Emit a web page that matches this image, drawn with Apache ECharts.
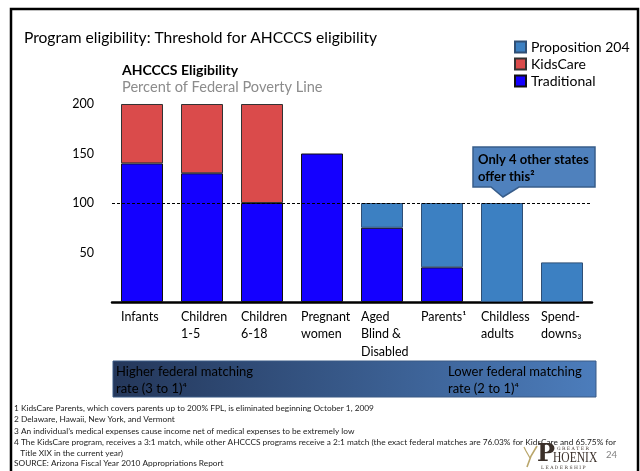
<!DOCTYPE html>
<html>
<head>
<meta charset="utf-8">
<script src="https://cdn.jsdelivr.net/npm/echarts/dist/echarts.min.js"></script>
<style>
  html, body { margin: 0; padding: 0; background: #fff; }
  #main { width: 640px; height: 471px; }
</style>
</head>
<body>
<div id="main"></div>
<script>
// eligibility categories (x axis)
const categories = ['Infants', 'Children\n1-5', 'Children\n6-18', 'Pregnant\nwomen',
  'Aged\nBlind &\nDisabled', 'Parents¹', 'Childless\nadults', 'Spend-\ndowns₃'];
// percent of federal poverty line, stacked
const traditional = [140, 130, 100, 150, 75, 35, '-', '-'];
const kidsCare = [60, 70, 100, '-', '-', '-', '-', '-'];
const proposition204 = ['-', '-', '-', '-', 25, 65, 100, 40];
const threshold = 100;
const footnotes = [
  '1 KidsCare Parents, which covers parents up to 200% FPL, is eliminated beginning October 1, 2009',
  '2 Delaware, Hawaii, New York, and Vermont',
  '3 An individual\u2019s medical expenses cause income net of medical expenses to be extremely low',
  '4 The KidsCare program, receives a 3:1 match, while other AHCCCS programs receive a 2:1 match (the exact federal matches are 76.03% for KidsCare and 65.75% for',
  '   Title XIX in the current year)'
];

const FONT = 'Lato, "Open Sans", sans-serif';
let chart = echarts.init(document.getElementById('main'));

let option = {
  animation: false,
  textStyle: { fontFamily: FONT },
  title: [
    {
      text: 'Program eligibility: Threshold for AHCCCS eligibility',
      left: 19, top: 25,
      textStyle: { fontSize: 15.6, fontWeight: 'normal', color: '#000', fontFamily: FONT }
    },
    {
      text: 'AHCCCS Eligibility',
      subtext: 'Percent of Federal Poverty Line',
      left: 117, top: 58, itemGap: 3,
      textStyle: { fontSize: 14, fontWeight: 'bold', color: '#000', fontFamily: FONT },
      subtextStyle: { fontSize: 14.6, color: '#8c8c8c', fontFamily: FONT }
    }
  ],
  legend: {
    orient: 'vertical', left: 509, top: 35,
    itemWidth: 11, itemHeight: 11, itemGap: 3, icon: 'rect',
    data: ['Proposition 204', 'KidsCare', 'Traditional'],
    textStyle: { fontSize: 14, color: '#000', fontFamily: FONT }
  },
  grid: { left: 112, right: 48, top: 104, bottom: 169 },
  xAxis: {
    type: 'category',
    data: categories,
    axisLine: { lineStyle: { color: '#000', width: 2.5 } },
    axisTick: { show: false },
    axisLabel: {
      interval: 0, margin: 6,
      formatter: v => v.split('\n').map(s => '{l|' + s + '}').join('\n'),
      rich: { l: { width: 42, align: 'left', fontSize: 12.5, lineHeight: 17.5, color: '#000', fontFamily: FONT } }
    }
  },
  yAxis: {
    type: 'value', min: 0, max: 200, interval: 50,
    axisLine: { show: false }, axisTick: { show: false }, splitLine: { show: false },
    axisLabel: { margin: 18, fontSize: 12.5, color: '#000', fontFamily: FONT,
      formatter: v => v === 0 ? '' : v }
  },
  series: [
    {
      name: 'Traditional', type: 'bar', stack: 'fpl', data: traditional,
      barCategoryGap: '30%',
      itemStyle: { color: '#1400FF', borderColor: '#111', borderWidth: 1 },
      markLine: {
        silent: true, symbol: 'none', label: { show: false },
        lineStyle: { type: [3, 2], color: '#000', width: 1 },
        data: [{ yAxis: threshold }]
      }
    },
    {
      name: 'KidsCare', type: 'bar', stack: 'fpl', data: kidsCare,
      itemStyle: { color: '#DA4B4B', borderColor: '#333', borderWidth: 1 }
    },
    {
      name: 'Proposition 204', type: 'bar', stack: 'fpl', data: proposition204,
      itemStyle: { color: '#3C80C2', borderColor: '#2f4f75', borderWidth: 1 }
    }
  ]
};
chart.setOption(option);

// callout pointing at the childless adults bar
let tip = chart.convertToPixel({ xAxisIndex: 0, yAxisIndex: 0 }, [6, threshold]);
let tx = tip[0] + 1, ty = tip[1] - 6;

let graphics = [
  // slide frame
  { type: 'rect', shape: { x: 11, y: 9, width: 627, height: 470 },
    style: { fill: 'none', stroke: '#000', lineWidth: 2.5 }, silent: true },
  // callout
  { type: 'polygon', shape: { points: [
      [tx - 30, ty - 50], [tx + 92, ty - 50], [tx + 92, ty - 10], [tx + 16, ty - 10],
      [tx, ty], [tx - 12, ty - 10], [tx - 30, ty - 10]] },
    style: { fill: '#4F81BD', stroke: '#385D8A', lineWidth: 1.5 } },
  { type: 'text', left: tx - 25, top: ty - 46,
    style: { text: 'Only 4 other states\noffer this²', font: 'bold 13px ' + FONT, fill: '#000', lineHeight: 17 } },
  // matching-rate band
  { type: 'rect', shape: { x: 113, y: 361, width: 483, height: 36 },
    style: { stroke: '#3a5a85', lineWidth: 1,
      fill: { type: 'linear', x: 0, y: 0, x2: 1, y2: 0,
        colorStops: [{ offset: 0, color: '#24375a' }, { offset: 1, color: '#4c7dbc' }] } } },
  { type: 'text', left: 116, top: 363,
    style: { text: 'Higher federal matching\nrate (3 to 1)⁴', font: '13px ' + FONT, fill: '#000', lineHeight: 17 } },
  { type: 'text', left: 448, top: 363,
    style: { text: 'Lower federal matching\nrate (2 to 1)⁴', font: '13px ' + FONT, fill: '#000', lineHeight: 17 } },
  // footnotes
  { type: 'text', left: 14, top: 403,
    style: { text: footnotes.join('\n'), font: '8.3px ' + FONT, fill: '#222', lineHeight: 11.2 } },
  { type: 'text', left: 14, top: 459,
    style: { text: 'SOURCE: Arizona Fiscal Year 2010 Appropriations Report', font: '8.3px ' + FONT, fill: '#222' } },
  // page number
  { type: 'text', left: 606, top: 450,
    style: { text: '24', font: '9.5px ' + FONT, fill: '#808080' } },
  // logo
  { type: 'polyline', shape: { points: [[527, 467], [531, 456], [537, 446]] },
    style: { stroke: '#b9a66b', lineWidth: 1.6, fill: 'none' } },
  { type: 'polyline', shape: { points: [[530, 458], [526, 451], [524, 447]] },
    style: { stroke: '#b9a66b', lineWidth: 1.2, fill: 'none' } },
  { type: 'text', x: 537, y: 443,
    style: { text: 'P', font: 'bold 24px "DejaVu Serif", serif', fill: '#3b302a' } },
  { type: 'text', x: 557, y: 446,
    style: { text: 'G R E A T E R', font: '4.5px "DejaVu Serif", serif', fill: '#3b302a' } },
  { type: 'text', x: 553, y: 451, scaleX: 0.77,
    style: { text: 'HOENIX', font: '15px "Liberation Serif", serif', fill: '#3b302a' } },
  { type: 'text', x: 541, y: 465,
    style: { text: 'L E A D E R S H I P', font: '4.5px "DejaVu Serif", serif', fill: '#3b302a' } }
];
chart.setOption({ graphic: graphics });
</script>
</body>
</html>
